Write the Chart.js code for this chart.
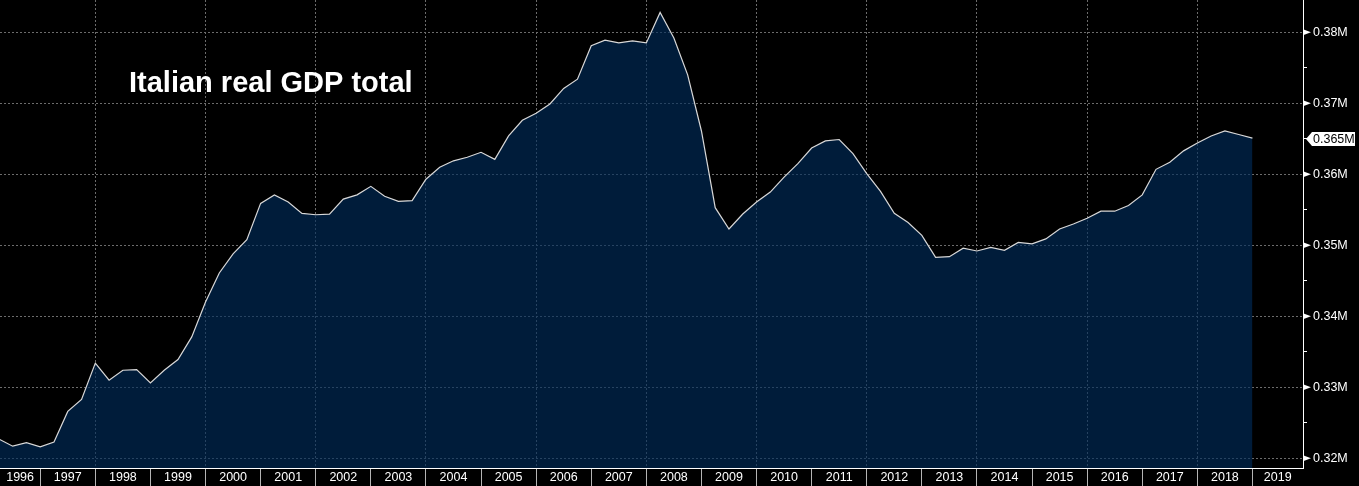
<!DOCTYPE html>
<html>
<head>
<meta charset="utf-8">
<title>Italian real GDP total</title>
<script src="https://cdn.jsdelivr.net/npm/chart.js@4.4.1/dist/chart.umd.min.js"></script>
<style>
    html, body { margin: 0; padding: 0; background: #000; }
    canvas { display: block; }
</style>
</head>
<body>
<canvas id="gdpChart" width="1359" height="486"></canvas>
<script>
// year labels along the bottom band
const yearLabels = ['1996', '1997', '1998', '1999', '2000', '2001', '2002', '2003', '2004', '2005', '2006', '2007',
    '2008', '2009', '2010', '2011', '2012', '2013', '2014', '2015', '2016', '2017', '2018', '2019'];

// quarterly categories, 1996 Q1 .. 2018 Q4
const quarters = yearLabels.slice(0, 23).flatMap(y => ['Q1', 'Q2', 'Q3', 'Q4'].map(q => y + ' ' + q));

// real GDP, thousands
const gdpValues = [
    322.7, 321.7, 322.2, 321.6, 322.3, 326.6, 328.3, 333.4,
    331.0, 332.4, 332.5, 330.6, 332.4, 333.9, 337.1, 342.0,
    346.1, 348.8, 350.8, 355.9, 357.1, 356.1, 354.5, 354.3,
    354.4, 356.5, 357.1, 358.3, 356.9, 356.2, 356.3, 359.3,
    361.0, 361.9, 362.4, 363.1, 362.1, 365.4, 367.6, 368.6,
    369.9, 372.1, 373.4, 378.1, 378.9, 378.5, 378.8, 378.5,
    382.8, 379.2, 374.0, 366.1, 355.3, 352.3, 354.4, 356.1,
    357.5, 359.6, 361.5, 363.7, 364.7, 364.9, 362.9, 360.1,
    357.6, 354.5, 353.2, 351.4, 348.3, 348.4, 349.6, 349.2,
    349.7, 349.3, 350.4, 350.2, 350.9, 352.3, 353.0, 353.8,
    354.8, 354.8, 355.6, 357.1, 360.7, 361.7, 363.3, 364.4,
    365.4, 366.1, 365.6, 365.1
];

// right axis ticks
const yTickValues = [320, 330, 340, 350, 360, 370, 380];
const yTickLabels = ['0.32M', '0.33M', '0.34M', '0.35M', '0.36M', '0.37M', '0.38M'];
const yMinorTicks = [325, 335, 345, 355, 365, 375];
const lastLabel = '0.365M';

const gridColor = '#6c6c6c';
const tickFont = { family: '"Liberation Sans", Arial, sans-serif', size: 12.5 };

const titlePlugin = {
    id: 'titleText',
    afterDraw(chart) {
        const ctx = chart.ctx;
        ctx.save();
        ctx.font = 'bold 29px "Liberation Sans", Arial, sans-serif';
        ctx.fillStyle = '#fff';
        ctx.textBaseline = 'alphabetic';
        ctx.fillText('Italian real GDP total', 129, 92);
        ctx.restore();
    }
};

// little pointers on major ticks + last value tag
const axisMarks = {
    id: 'axisMarks',
    afterDraw(chart) {
        const ctx = chart.ctx;
        const y = chart.scales.y;
        const x0 = y.left;
        ctx.save();
        ctx.fillStyle = '#fff';
        yTickValues.forEach(v => {
            const py = y.getPixelForValue(v);
            ctx.beginPath();
            ctx.moveTo(x0, py - 3);
            ctx.lineTo(x0 + 8, py);
            ctx.lineTo(x0, py + 3);
            ctx.closePath();
            ctx.fill();
        });

        const py = Math.round(y.getPixelForValue(gdpValues[gdpValues.length - 1])) + 1;
        ctx.beginPath();
        ctx.moveTo(x0 + 3, py);
        ctx.lineTo(x0 + 9, py - 7);
        ctx.lineTo(x0 + 52, py - 7);
        ctx.lineTo(x0 + 52, py + 7);
        ctx.lineTo(x0 + 9, py + 7);
        ctx.closePath();
        ctx.fill();
        ctx.fillStyle = '#000';
        ctx.font = tickFont.size + 'px ' + tickFont.family;
        ctx.textBaseline = 'middle';
        ctx.fillText(lastLabel, x0 + 10, py + 1);
        ctx.restore();
    }
};

const ctx = document.getElementById('gdpChart').getContext('2d');
const gdpChart = new Chart(ctx, {
    type: 'line',
    data: {
        labels: quarters,
        datasets: [{
            label: 'Italian real GDP total',
            data: quarters.map((q, i) => ({ x: i + 1, y: gdpValues[i] })),
            borderColor: '#d8d8d8',
            borderWidth: 1.2,
            backgroundColor: 'rgba(0, 44, 90, 0.64)',
            fill: 'start',
            pointRadius: 0,
            tension: 0
        }]
    },
    options: {
        responsive: false,
        animation: false,
        layout: { padding: 0 },
        plugins: {
            legend: { display: false },
            tooltip: { enabled: false }
        },
        scales: {
            x: {
                type: 'linear',
                position: 'bottom',
                min: 1.08,
                max: 95.67,
                afterBuildTicks(scale) {
                    const ticks = [];
                    yearLabels.forEach((label, n) => {
                        const start = 4 * n, end = 4 * n + 4;
                        if (start >= scale.min && start <= scale.max) {
                            ticks.push({ value: start, kind: 'edge', year: Number(label) });
                        }
                        const a = Math.max(start, scale.min), b = Math.min(end, scale.max);
                        if (b > a) ticks.push({ value: (a + b) / 2, kind: 'label', text: label });
                    });
                    scale.ticks = ticks;
                },
                afterFit(scale) {
                    scale.height = 18;
                    scale.paddingLeft = 0;
                    scale.paddingRight = 0;
                },
                ticks: {
                    autoSkip: false,
                    maxRotation: 0,
                    color: '#fff',
                    font: tickFont,
                    padding: -16,
                    callback: (value, index, ticks) => ticks[index].kind === 'label' ? ticks[index].text : ''
                },
                grid: {
                    color: c => (c.tick && c.tick.kind === 'edge' && c.tick.year % 2 === 0) ? gridColor : 'rgba(0,0,0,0)',
                    tickLength: 18,
                    tickColor: c => (c.tick && c.tick.kind === 'edge') ? '#b4b4b4' : 'rgba(0,0,0,0)',
                    tickBorderDash: [],
                    lineWidth: 1
                },
                border: { display: true, color: '#fff', width: 1, dash: [2, 2] }
            },
            y: {
                position: 'right',
                min: 318.63,
                max: 384.55,
                afterBuildTicks(scale) {
                    scale.ticks = yTickValues.concat(yMinorTicks).sort((a, b) => a - b).map(v => ({ value: v }));
                },
                afterFit(scale) {
                    scale.width = 56;
                    scale.paddingTop = 0;
                    scale.paddingBottom = 0;
                },
                ticks: {
                    autoSkip: false,
                    color: '#fff',
                    font: tickFont,
                    padding: 6,
                    callback: value => {
                        const i = yTickValues.indexOf(value);
                        return i >= 0 ? yTickLabels[i] : '';
                    }
                },
                grid: {
                    color: c => (c.tick && yTickValues.includes(c.tick.value)) ? gridColor : 'rgba(0,0,0,0)',
                    tickLength: 4,
                    tickColor: '#fff',
                    tickBorderDash: []
                },
                border: { display: true, color: '#fff', width: 1, dash: [2, 2] }
            }
        }
    },
    plugins: [titlePlugin, axisMarks]
});
</script>
</body>
</html>
